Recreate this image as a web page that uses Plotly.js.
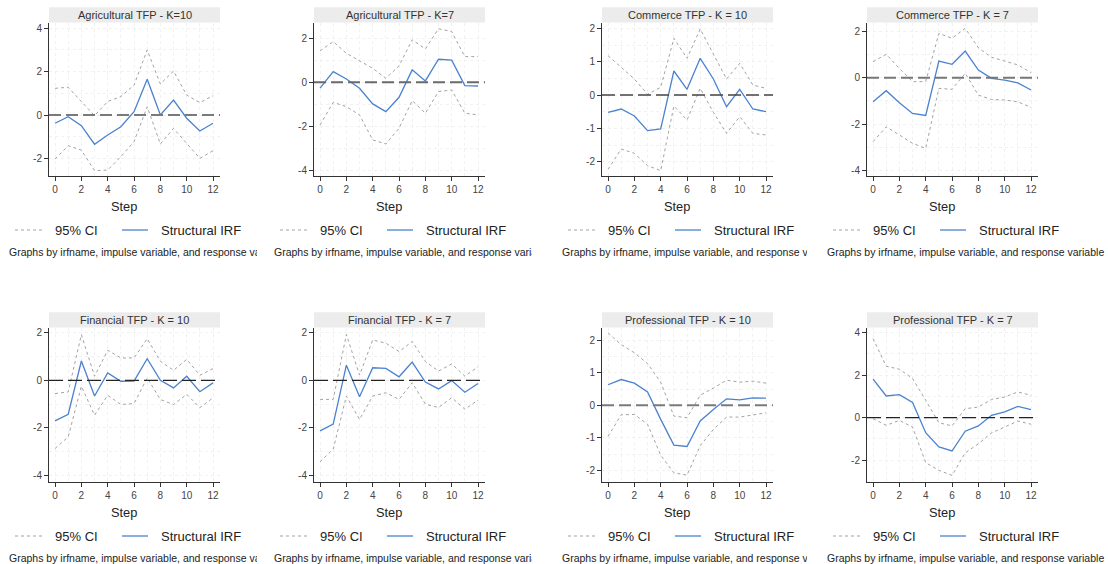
<!DOCTYPE html>
<html><head><meta charset="utf-8">
<script src="https://cdn.plot.ly/plotly-3.0.1.min.js"></script>
<style>
html,body{margin:0;padding:0;background:#fff;}
body{width:1108px;height:564px;position:relative;overflow:hidden;}
.p{position:absolute;overflow:hidden;}
</style></head><body>
<div id="p1" class="p"></div><div id="p2" class="p"></div><div id="p3" class="p"></div><div id="p4" class="p"></div>
<div id="p5" class="p"></div><div id="p6" class="p"></div><div id="p7" class="p"></div><div id="p8" class="p"></div>
<script>
const steps = [0,1,2,3,4,5,6,7,8,9,10,11,12];

const agri10Irf = [-0.38,-0.08,-0.49,-1.35,-0.92,-0.54,0.15,1.65,0.00,0.69,-0.15,-0.74,-0.38];
const agri10Hi  = [1.23,1.28,0.62,-0.03,0.62,0.85,1.38,3.00,1.43,2.03,0.92,0.57,0.89];
const agri10Lo  = [-2.03,-1.42,-1.62,-2.57,-2.54,-1.92,-1.23,0.38,-1.34,-0.62,-1.31,-2.00,-1.65];

const agri7Irf = [-0.27,0.48,0.15,-0.27,-0.98,-1.33,-0.68,0.56,0.06,1.04,1.00,-0.15,-0.17];
const agri7Hi  = [1.42,1.84,1.31,0.97,0.63,0.18,0.74,1.92,1.51,2.42,2.29,1.16,1.16];
const agri7Lo  = [-1.93,-0.91,-1.10,-1.48,-2.61,-2.79,-2.08,-0.83,-1.40,-0.42,-0.35,-1.40,-1.48];

const comm10Irf = [-0.52,-0.42,-0.63,-1.07,-1.02,0.72,0.17,1.10,0.48,-0.35,0.17,-0.42,-0.50];
const comm10Hi  = [1.18,0.82,0.48,0.02,0.23,1.70,1.10,1.98,1.22,0.48,0.95,0.30,0.20];
const comm10Lo  = [-2.23,-1.62,-1.75,-2.12,-2.27,-0.33,-0.75,0.20,-0.52,-1.15,-0.65,-1.15,-1.20];

const comm7Irf = [-1.04,-0.56,-1.08,-1.54,-1.63,0.72,0.58,1.15,0.33,-0.03,-0.10,-0.22,-0.53];
const comm7Hi  = [0.69,1.01,0.40,-0.17,-0.17,1.91,1.70,2.13,1.29,0.88,0.72,0.55,0.22];
const comm7Lo  = [-2.76,-2.12,-2.47,-2.83,-3.05,-0.46,-0.50,0.19,-0.75,-0.94,-0.96,-1.04,-1.28];

const fin10Irf = [-1.71,-1.43,0.81,-0.66,0.31,-0.04,-0.03,0.91,0.00,-0.32,0.17,-0.48,-0.11];
const fin10Hi  = [-0.56,-0.49,1.92,0.17,1.26,0.94,0.94,1.75,0.80,0.42,0.88,0.21,0.49];
const fin10Lo  = [-2.87,-2.38,-0.25,-1.47,-0.63,-1.02,-0.98,0.10,-0.81,-1.02,-0.59,-1.15,-0.74];

const fin7Irf = [-2.12,-1.84,0.64,-0.69,0.53,0.50,0.15,0.77,-0.07,-0.36,-0.01,-0.50,-0.13];
const fin7Hi  = [-0.80,-0.80,1.93,0.22,1.70,1.56,1.21,1.63,0.79,0.39,0.69,0.18,0.57];
const fin7Lo  = [-3.42,-2.89,-0.66,-1.64,-0.66,-0.52,-0.80,-0.10,-1.00,-1.14,-0.73,-1.21,-0.83];

const prof10Irf = [0.63,0.79,0.68,0.41,-0.43,-1.22,-1.26,-0.48,-0.13,0.20,0.17,0.23,0.22];
const prof10Hi  = [2.22,1.86,1.61,1.28,0.71,-0.33,-0.38,0.31,0.53,0.77,0.71,0.74,0.68];
const prof10Lo  = [-0.95,-0.29,-0.28,-0.58,-1.53,-2.07,-2.14,-1.24,-0.74,-0.36,-0.36,-0.29,-0.23];

const prof7Irf = [1.81,1.02,1.08,0.71,-0.71,-1.38,-1.57,-0.64,-0.39,0.11,0.27,0.53,0.38];
const prof7Hi  = [3.72,2.42,2.28,1.84,0.82,-0.24,-0.39,0.42,0.50,0.86,0.97,1.21,1.05];
const prof7Lo  = [-0.05,-0.36,-0.13,-0.44,-2.12,-2.48,-2.72,-1.66,-1.23,-0.72,-0.44,-0.16,-0.31];

const panelTitles = ["Agricultural TFP - K=10","Agricultural TFP - K=7","Commerce TFP - K = 10","Commerce TFP - K = 7",
                     "Financial TFP - K = 10","Financial TFP - K = 7","Professional TFP - K = 10","Professional TFP - K = 7"];
const legendLabels = ["95% CI","Structural IRF"];
const xTitle = "Step";
const noteText = "Graphs by irfname, impulse variable, and response variable";
const xTickVals = [0,2,4,6,8,10,12];
const yTickVals = [[-2,0,2,4],[-4,-2,0,2],[-2,-1,0,1,2],[-4,-2,0,2],[-4,-2,0,2],[-4,-2,0,2],[-2,-1,0,1,2],[-2,0,2,4]];

const FONT = "Liberation Sans, Arial, Helvetica, sans-serif";
const BLUE = "#4a82d0";
const CIGRAY = "#a3a3a3";

const series = [
  [agri10Irf, agri10Lo, agri10Hi], [agri7Irf, agri7Lo, agri7Hi],
  [comm10Irf, comm10Lo, comm10Hi], [comm7Irf, comm7Lo, comm7Hi],
  [fin10Irf, fin10Lo, fin10Hi], [fin7Irf, fin7Lo, fin7Hi],
  [prof10Irf, prof10Lo, prof10Hi], [prof7Irf, prof7Lo, prof7Hi]
];

// layout geometry (pixels)
const cols = [ {left:0,l:49,r:37}, {left:265,l:49,r:47}, {left:552,l:50,r:34}, {left:817,l:50,r:70} ];
const rows = [ {top:0,t:23,ph:153}, {top:282,t:46,ph:154} ];
const PW = 171, PH_TOTAL = 282;
const yRanges = [[-2.815,4.245],[-4.24,2.68],[-2.43,2.16],[-4.24,2.36],[-4.28,2.2],[-4.27,2.2],[-2.35,2.37],[-3.03,4.22]];
const yMinor = [1,1,0.5,1,1,1,0.5,1];
const zeroStyles = [
  {c:"#7a7a7a",w:2,d:"12px,5px"},{c:"#6a6a6a",w:2,d:"12px,5px"},{c:"#444",w:1.6,d:"13px,5px"},{c:"#777",w:2,d:"12px,5px"},
  {c:"#222",w:1.2,d:"14px,5px"},{c:"#222",w:1.2,d:"14px,5px"},{c:"#7a7a7a",w:2,d:"12px,5px"},{c:"#222",w:1.2,d:"14px,5px"}
];

for (let i = 0; i < 8; i++) {
  const col = cols[i % 4], row = rows[Math.floor(i / 4)];
  const W = col.l + PW + col.r, H = PH_TOTAL;
  const ph = row.ph;
  const b = H - row.t - ph;
  const div = document.getElementById("p" + (i + 1));
  div.style.left = col.left + "px"; div.style.top = row.top + "px";
  div.style.width = W + "px"; div.style.height = H + "px";
  const [irf, lo, hi] = series[i];
  const px = v => v / PW, py = v => v / ph;

  const traces = [
    {x: steps, y: lo, type: "scatter", mode: "lines", line: {color: CIGRAY, width: 1, dash: "3px,3px"}, hoverinfo: "skip"},
    {x: steps, y: hi, type: "scatter", mode: "lines", line: {color: CIGRAY, width: 1, dash: "3px,3px"}, hoverinfo: "skip"},
    {x: steps, y: irf, type: "scatter", mode: "lines", line: {color: BLUE, width: 1.3}, hoverinfo: "skip"}
  ];
  const zs = zeroStyles[i];
  const gridC = "#f1f1f1";
  const gd = "3px,3px";
  const layout = {
    width: W, height: H, showlegend: false,
    paper_bgcolor: "rgba(0,0,0,0)", plot_bgcolor: "#fff",
    margin: {l: col.l, r: col.r, t: row.t, b: b, pad: 0},
    font: {family: FONT, color: "#333"},
    xaxis: {range: [-0.46, 12.53], tickmode: "array", tickvals: xTickVals, ticktext: xTickVals.map(String),
            ticks: "outside", ticklen: 4, tickwidth: 1, tickcolor: "#333",
            showline: true, linecolor: "#333", linewidth: 1, showgrid: true, gridcolor: gridC, griddash: gd, gridwidth: 1,
            zeroline: false, tickfont: {size: 10, color: "#444", family: FONT},
            minor: {dtick: 1, tick0: 0, showgrid: true, gridcolor: gridC, griddash: gd, ticks: ""}, fixedrange: true},
    yaxis: {range: yRanges[i], tickmode: "array", tickvals: yTickVals[i], ticktext: yTickVals[i].map(String),
            ticks: "outside", ticklen: 4, tickwidth: 1, tickcolor: "#333",
            showline: true, linecolor: "#333", linewidth: 1, showgrid: true, gridcolor: gridC, griddash: gd, gridwidth: 1,
            zeroline: false, tickfont: {size: 10, color: "#444", family: FONT},
            minor: {dtick: yMinor[i], tick0: 0, showgrid: true, gridcolor: gridC, griddash: gd, ticks: ""}, fixedrange: true},
    shapes: [
      {type: "rect", xref: "paper", yref: "paper", x0: 0, x1: 1, y0: 1 + py(0.6), y1: 1 + py(15.8), fillcolor: "#ececec", line: {width: 0}},
      {type: "line", xref: "paper", yref: "y", x0: 0, x1: 1, y0: 0, y1: 0, line: {color: zs.c, width: zs.w, dash: zs.d}, layer: "above"},
      {type: "line", xref: "paper", yref: "paper", x0: px(-34), x1: px(-6.6), y0: -py(54), y1: -py(54), line: {color: CIGRAY, width: 1, dash: "3px,3px"}},
      {type: "line", xref: "paper", yref: "paper", x0: px(73), x1: px(99), y0: -py(54), y1: -py(54), line: {color: BLUE, width: 1.3}}
    ],
    annotations: [
      {text: panelTitles[i], xref: "paper", yref: "paper", x: 0.5, y: 1 + py(8.2), xanchor: "center", yanchor: "middle", showarrow: false, font: {size: 11, color: "#333", family: FONT}},
      {text: xTitle, xref: "paper", yref: "paper", x: px(74.7), y: -py(30.5), xanchor: "center", yanchor: "middle", showarrow: false, font: {size: 12.8, color: "#222", family: FONT}},
      {text: legendLabels[0], xref: "paper", yref: "paper", x: px(4), y: -py(54), xanchor: "left", yanchor: "middle", showarrow: false, font: {size: 13, color: "#222", family: FONT}},
      {text: legendLabels[1], xref: "paper", yref: "paper", x: px(110), y: -py(54), xanchor: "left", yanchor: "middle", showarrow: false, font: {size: 13, color: "#222", family: FONT}},
      {text: noteText, xref: "paper", yref: "paper", x: px(-42), y: -py(75.6), xanchor: "left", yanchor: "middle", showarrow: false, font: {size: 10.5, color: "#222", family: FONT}}
    ]
  };
  try {
    Plotly.newPlot(div, traces, layout, {staticPlot: true, displayModeBar: false});
  } catch (e) { console.error(e); }
}
</script>
</body></html>
